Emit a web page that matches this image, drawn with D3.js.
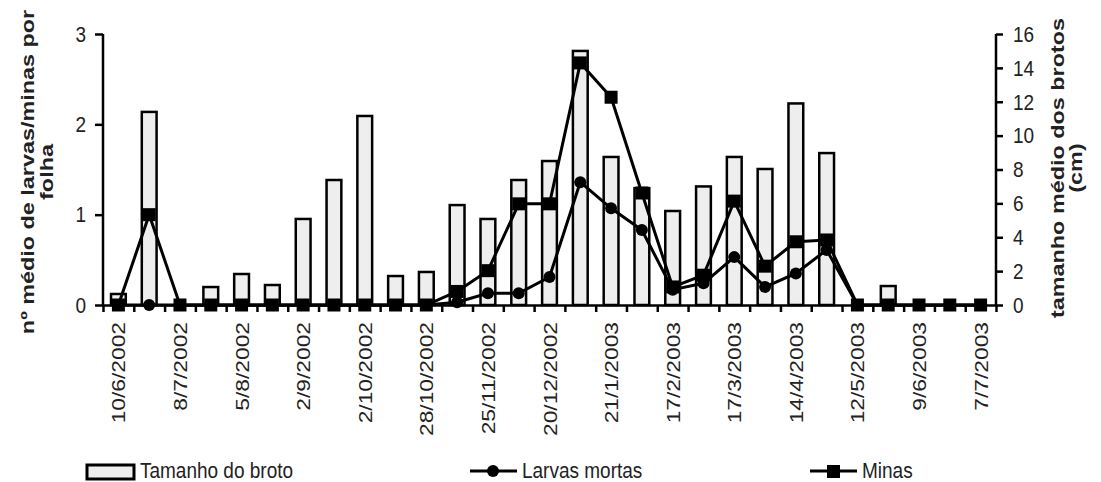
<!DOCTYPE html>
<html>
<head>
<meta charset="utf-8">
<title>Tamanho do broto, larvas mortas e minas</title>
<script src="https://cdn.jsdelivr.net/npm/d3@7"></script>
<style>
  body { margin: 0; background: #fff; }
  svg { font-family: "Liberation Sans", Arial, sans-serif; }
  .axis path, .axis line { stroke: #000; stroke-width: 2.5px; }
  .axis text { font-size: 19px; fill: #222; }
</style>
</head>
<body>
<script>
// tick labels shown on the x axis (every other sampling date)
var tickLabels = ["10/6/2002", "8/7/2002", "5/8/2002", "2/9/2002", "2/10/2002",
    "28/10/2002", "25/11/2002", "20/12/2002", "21/1/2003", "17/2/2003",
    "17/3/2003", "14/4/2003", "12/5/2003", "9/6/2003", "7/7/2003"];

// 29 sampling dates, labelled at even positions
var categories = d3.range(29);

// Tamanho do broto (cm), right axis
var broto = [0.65, 11.4, 0, 1.06, 1.83, 1.18, 5.08, 7.38, 11.16, 1.71, 1.95,
    5.9, 5.08, 7.38, 8.5, 15.0, 8.74, 6.9, 5.55, 7.0, 8.74, 8.03, 11.9, 8.97,
    0, 1.12, 0, 0, 0];

// Larvas mortas per folha, left axis
var larvas = [0, 0, 0, 0, 0, 0, 0, 0, 0, 0, 0, 0.03, 0.13, 0.13, 0.31, 1.36,
    1.07, 0.83, 0.17, 0.24, 0.53, 0.2, 0.35, 0.61, 0, 0, 0, 0, 0];

// Minas per folha, left axis
var minas = [0, 1.0, 0, 0, 0, 0, 0, 0, 0, 0, 0, 0.15, 0.38, 1.12, 1.12, 2.68,
    2.3, 1.24, 0.2, 0.33, 1.15, 0.43, 0.7, 0.72, 0, 0, 0, 0, 0];

var leftTicks = [0, 1, 2, 3];
var rightTicks = [0, 2, 4, 6, 8, 10, 12, 14, 16];

var width = 1101, height = 482;
var plotLeft = 103, plotRight = 996, plotTop = 34, plotBottom = 305;
var stretch = 1.2;   // the scan is taller than wide

var svg = d3.select("body").append("svg")
    .attr("width", width)
    .attr("height", height);

var x = d3.scaleBand().domain(categories).range([plotLeft, plotRight]);
var xEdge = d3.scaleLinear().domain([0, categories.length]).range([plotLeft, plotRight]);
var yL = d3.scaleLinear().domain([0, 3]).range([plotBottom, plotTop]);
var yR = d3.scaleLinear().domain([0, 16]).range([plotBottom, plotTop]);

var barW = x.bandwidth() * 0.48;
function cx(i) { return x(i) + x.bandwidth() / 2; }

// bars
svg.append("g").selectAll("rect")
    .data(broto)
    .join("rect")
    .attr("x", function(d, i) { return cx(i) - barW / 2; })
    .attr("y", function(d) { return yR(d); })
    .attr("width", barW)
    .attr("height", function(d) { return yR(0) - yR(d); })
    .attr("fill", "#eeeeee")
    .attr("stroke", "#000")
    .attr("stroke-width", 2.5)
    .style("display", function(d) { return d > 0 ? null : "none"; });

// axes
svg.append("g")
    .attr("class", "axis")
    .attr("transform", "translate(" + plotLeft + ",0)")
    .call(d3.axisLeft(yL).tickValues(leftTicks).tickFormat(d3.format("d"))
        .tickSize(8).tickSizeOuter(0).tickPadding(9))
    .call(function(g) {
        g.select(".domain").attr("d", "M0," + plotBottom + "V" + plotTop);
        g.selectAll("text").attr("transform", "scale(1," + stretch + ")");
    });

svg.append("g")
    .attr("class", "axis")
    .attr("transform", "translate(" + plotRight + ",0)")
    .call(d3.axisRight(yR).tickValues(rightTicks).tickFormat(d3.format("d"))
        .tickSize(7).tickSizeOuter(0).tickPadding(10))
    .call(function(g) {
        g.select(".domain").attr("d", "M0," + plotBottom + "V" + plotTop);
        g.selectAll("text").attr("transform", "scale(1," + stretch + ")");
    });

svg.append("g")
    .attr("class", "axis")
    .attr("transform", "translate(0," + plotBottom + ")")
    .call(d3.axisBottom(xEdge).tickValues(d3.range(categories.length + 1))
        .tickFormat("").tickSize(7).tickSizeOuter(0));

// x labels
svg.append("g").selectAll("text")
    .data(tickLabels)
    .join("text")
    .attr("transform", function(d, i) {
        return "translate(" + (cx(i * 2) + 7) + "," + (plotBottom + 17) + ") rotate(-90) scale(" + stretch + ",1)";
    })
    .attr("text-anchor", "end")
    .attr("font-size", 19)
    .attr("fill", "#222")
    .text(function(d) { return d; });

// lines
var lineL = d3.line()
    .x(function(d, i) { return cx(i); })
    .y(function(d) { return yL(d); });

svg.append("path")
    .datum(larvas)
    .attr("d", lineL)
    .attr("fill", "none")
    .attr("stroke", "#000")
    .attr("stroke-width", 3);

svg.append("path")
    .datum(minas)
    .attr("d", lineL)
    .attr("fill", "none")
    .attr("stroke", "#000")
    .attr("stroke-width", 3);

svg.append("g").selectAll("circle")
    .data(larvas)
    .join("circle")
    .attr("cx", function(d, i) { return cx(i); })
    .attr("cy", function(d) { return yL(d); })
    .attr("r", 6)
    .attr("fill", "#000");

var sq = 13;
svg.append("g").selectAll("rect")
    .data(minas)
    .join("rect")
    .attr("x", function(d, i) { return cx(i) - sq / 2; })
    .attr("y", function(d) { return yL(d) - sq / 2; })
    .attr("width", sq)
    .attr("height", sq)
    .attr("fill", "#000");

// axis titles
var leftTitle = svg.append("text")
    .attr("transform", "translate(34,172) rotate(-90) scale(1.3,1)")
    .attr("text-anchor", "middle")
    .attr("font-size", 18)
    .attr("font-weight", "bold")
    .attr("fill", "#222");
leftTitle.append("tspan").attr("x", 0).attr("dy", 0).text("nº médio de larvas/minas por");
leftTitle.append("tspan").attr("x", 0).attr("dy", 19).text("folha");

var rightTitle = svg.append("text")
    .attr("transform", "translate(1064,168) rotate(-90) scale(1.3,1)")
    .attr("text-anchor", "middle")
    .attr("font-size", 18)
    .attr("font-weight", "bold")
    .attr("fill", "#222");
rightTitle.append("tspan").attr("x", 0).attr("dy", 0).text("tamanho médio dos brotos");
rightTitle.append("tspan").attr("x", 0).attr("dy", 18).text("(cm)");

// legend
var lg = svg.append("g").attr("font-size", 19).attr("fill", "#222");
lg.append("rect")
    .attr("x", 87).attr("y", 465).attr("width", 47).attr("height", 14)
    .attr("fill", "#eeeeee").attr("stroke", "#000").attr("stroke-width", 3);
lg.append("text").attr("transform", "translate(140,478) scale(1," + stretch + ")").text("Tamanho do broto");

lg.append("line").attr("x1", 470).attr("x2", 517).attr("y1", 471).attr("y2", 471)
    .attr("stroke", "#000").attr("stroke-width", 3);
lg.append("circle").attr("cx", 493).attr("cy", 471).attr("r", 6).attr("fill", "#000");
lg.append("text").attr("transform", "translate(522,478) scale(1," + stretch + ")").text("Larvas mortas");

lg.append("line").attr("x1", 810).attr("x2", 857).attr("y1", 471).attr("y2", 471)
    .attr("stroke", "#000").attr("stroke-width", 3);
lg.append("rect").attr("x", 827).attr("y", 465).attr("width", 13).attr("height", 13).attr("fill", "#000");
lg.append("text").attr("transform", "translate(862,478) scale(1," + stretch + ")").text("Minas");
</script>
</body>
</html>
